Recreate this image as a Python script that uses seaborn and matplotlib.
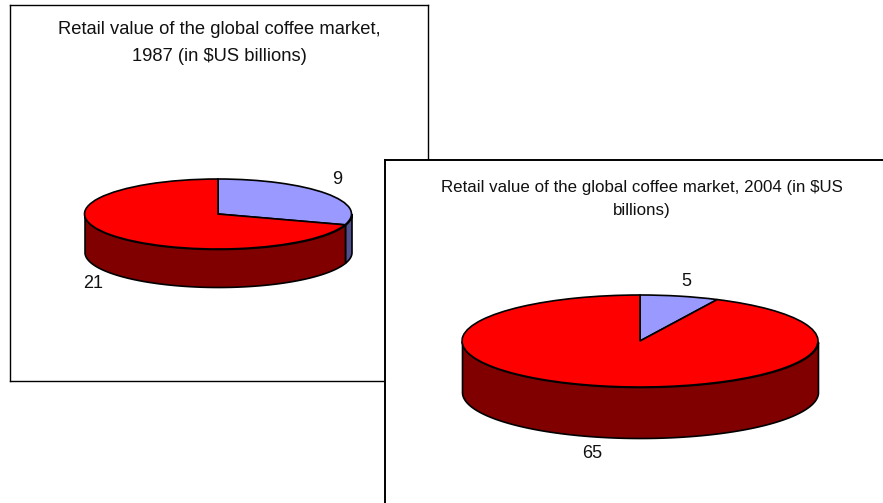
import numpy as np
import matplotlib
matplotlib.use("Agg")
import matplotlib.pyplot as plt
import seaborn as sns

# slices go clockwise from 12 o'clock
labels_1987 = ["9", "21"]
values_1987 = [9, 21]
labels_2004 = ["5", "65"]
values_2004 = [5, 65]
title_1987 = "Retail value of the global coffee market,\n1987 (in $US billions)"
title_2004 = "Retail value of the global coffee market, 2004 (in $US\nbillions)"

top_colors = sns.color_palette(["#9999FF", "#FF0000"])
wall_colors = sns.color_palette(["#50508C", "#800000"])

W, H = 883, 503

sns.set_theme(style="white")
plt.rcParams["font.family"] = ["Liberation Sans", "DejaVu Sans"]

fig = plt.figure(figsize=(W / 100, H / 100), dpi=100)
fig.patch.set_facecolor("white")


def draw_panel(box, center, radii, depth, values, title, title_xy, title_size, spacing, label_xy, labels, frame_lw, z):
    # box is left, top, right, bottom in pixels, everything else too
    x0, y0, x1, y1 = box
    ax = fig.add_axes([x0 / W, 1 - y1 / H, (x1 - x0) / W, (y1 - y0) / H], zorder=z)
    ax.pie(values, colors=top_colors, startangle=90, counterclock=False, center=(0, 0),
           wedgeprops={"edgecolor": "black", "linewidth": 1.2, "zorder": 5})

    # side wall, only the part facing the viewer
    total = sum(values)
    start = 90.0
    d = depth / radii[1]
    for v, c in zip(values, wall_colors):
        end = start - 360.0 * v / total
        t = np.linspace(start, end, 200)
        t = np.radians(t[np.sin(np.radians(t)) <= 0])
        if len(t) > 1:
            ax.fill_between(np.cos(t), np.sin(t), np.sin(t) - d, color=c, ec="black", lw=1.2, zorder=2)
        start = end

    ax.set_aspect("auto")
    ax.set_xlim((x0 - center[0]) / radii[0], (x1 - center[0]) / radii[0])
    ax.set_ylim((center[1] - y1) / radii[1], (center[1] - y0) / radii[1])
    ax.set_xticks([])
    ax.set_yticks([])
    ax.set_frame_on(True)
    ax.set_facecolor("white")
    for s in ax.spines.values():
        s.set_visible(True)
        s.set_color("black")
        s.set_linewidth(frame_lw)

    def px(x, y):
        return (x - x0) / (x1 - x0), (y1 - y) / (y1 - y0)

    ax.text(*px(*title_xy), title, transform=ax.transAxes, ha="center", va="center",
            fontsize=title_size, color="#111111", linespacing=spacing)
    for (lx, ly), t in zip(label_xy, labels):
        ax.text(*px(lx, ly), t, transform=ax.transAxes, ha="center", va="center",
                fontsize=13, color="#111111")
    return ax


draw_panel((9.5, 5, 428, 381), (218, 214), (133.5, 35), 38, values_1987, title_1987,
           (219, 43), 13.2, 1.7, [(337, 179.5), (93, 284)], labels_1987, 1.0, 1)
draw_panel((385, 159.5, 890, 510), (640, 341), (178, 46), 51, values_2004, title_2004,
           (642, 199), 12.2, 1.68, [(686, 282), (592, 453)], labels_2004, 1.4, 2)

fig.savefig("out.png", dpi=100)
